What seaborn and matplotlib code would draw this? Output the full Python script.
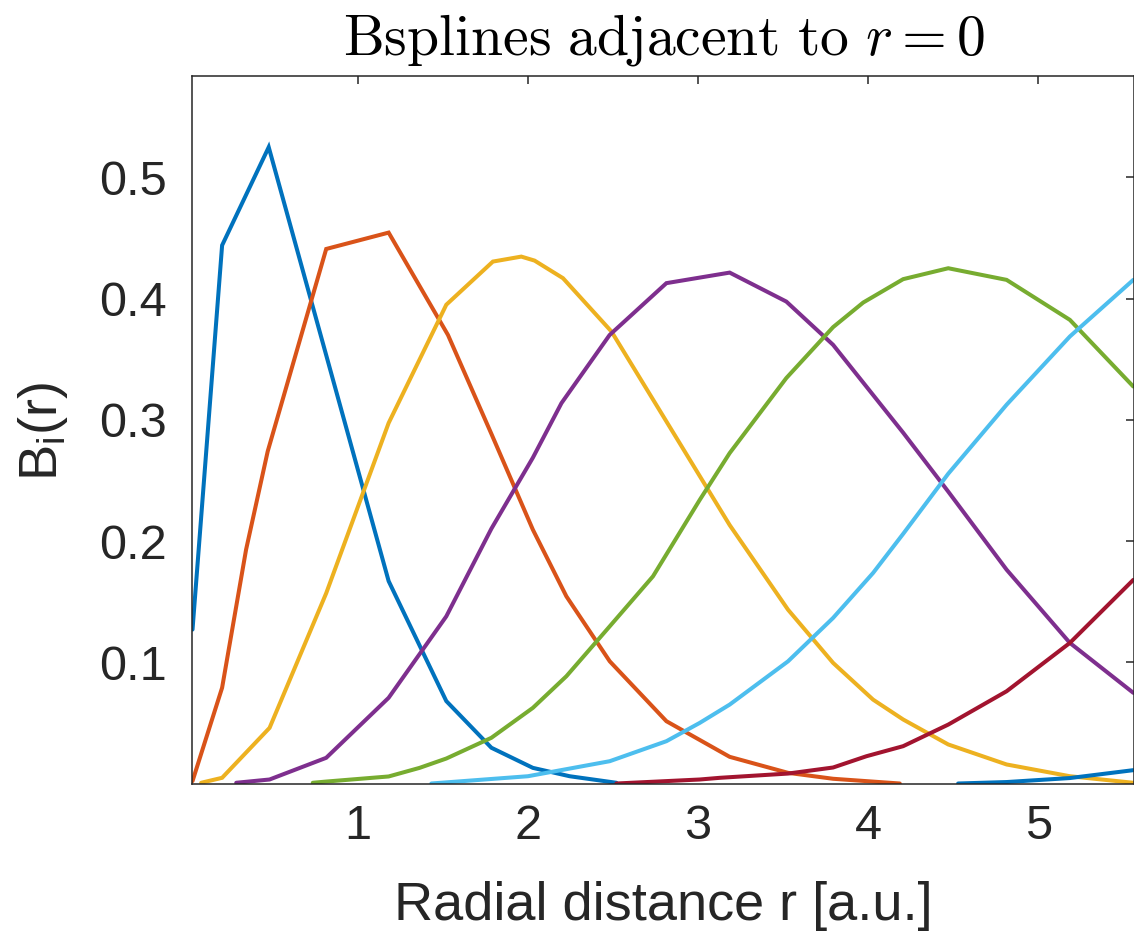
import numpy as np
import pandas as pd
import matplotlib
matplotlib.use("Agg")
import matplotlib.pyplot as plt
import seaborn as sns

# ---- data ----
blue1_x = [0.028, 0.202, 0.476, 1.181, 1.520, 1.785, 2.029, 2.245, 2.520]
blue1_y = [0.127, 0.444, 0.525, 0.167, 0.068, 0.0295, 0.0129, 0.006, 0.0006]

orange_x = [0.028, 0.202, 0.343, 0.470, 0.814, 1.181, 1.530, 1.785, 2.029, 2.226,
            2.481, 2.814, 3.186, 3.529, 3.794, 4.186]
orange_y = [0.002, 0.079, 0.193, 0.274, 0.441, 0.4545, 0.370, 0.2885, 0.2094, 0.1544,
            0.1008, 0.0514, 0.022, 0.0088, 0.0039, 0.0]

yellow_x = [0.079, 0.202, 0.481, 0.814, 1.181, 1.520, 1.794, 1.961, 2.039, 2.206, 2.491,
            2.814, 3.186, 3.529, 3.794, 4.029, 4.206, 4.471, 4.814, 5.186, 5.559]
yellow_y = [0.0006, 0.0047, 0.0459, 0.157, 0.2974, 0.395, 0.4306, 0.4347, 0.4314, 0.4169,
            0.3729, 0.2987, 0.2132, 0.1434, 0.0995, 0.0692, 0.0528, 0.0322, 0.0157, 0.006, 0.0006]

purple_x = [0.285, 0.481, 0.814, 1.181, 1.520, 1.785, 2.029, 2.197, 2.480, 2.814, 3.186,
            3.519, 3.794, 4.206, 4.471, 4.814, 5.186, 5.559]
purple_y = [0.0006, 0.0033, 0.0212, 0.0707, 0.1379, 0.2102, 0.2688, 0.3138, 0.370, 0.4128,
            0.4215, 0.3976, 0.3619, 0.2894, 0.2408, 0.1764, 0.116, 0.0748]

green_x = [0.735, 0.814, 1.181, 1.363, 1.520, 1.785, 2.029, 2.226, 2.481, 2.735, 3.010,
           3.186, 3.519, 3.794, 3.971, 4.206, 4.471, 4.814, 5.186, 5.559]
green_y = [0.0006, 0.0016, 0.0058, 0.0129, 0.0206, 0.0377, 0.0624, 0.0885, 0.1297, 0.1709,
           0.234, 0.2726, 0.3345, 0.3765, 0.3968, 0.4161, 0.4251, 0.4155, 0.3825, 0.3275]

cyan_x = [1.432, 2.000, 2.481, 2.814, 3.010, 3.186, 3.529, 3.794, 4.029, 4.206, 4.471,
          4.814, 5.186, 5.559]
cyan_y = [0.0, 0.006, 0.0184, 0.0349, 0.050, 0.0651, 0.1008, 0.1366, 0.1737, 0.206, 0.2556,
          0.3125, 0.3688, 0.4155]

red_x = [2.520, 3.010, 3.129, 3.529, 3.794, 3.990, 4.206, 4.471, 4.814, 5.186, 5.559]
red_y = [0.0, 0.0033, 0.0047, 0.0082, 0.0132, 0.0225, 0.0308, 0.0486, 0.0761, 0.116, 0.168]

blue2_x = [4.529, 4.814, 5.186, 5.559]
blue2_y = [0.0, 0.0012, 0.0045, 0.011]

x_ticks = [1, 2, 3, 4, 5]
x_ticklabels = ["1", "2", "3", "4", "5"]
y_ticks = [0.1, 0.2, 0.3, 0.4, 0.5]
y_ticklabels = ["0.1", "0.2", "0.3", "0.4", "0.5"]

curves = [
    (blue1_x, blue1_y, "#0072BD"),
    (orange_x, orange_y, "#D95319"),
    (yellow_x, yellow_y, "#EDB120"),
    (purple_x, purple_y, "#7E2F8E"),
    (green_x, green_y, "#77AC30"),
    (cyan_x, cyan_y, "#4DBEEE"),
    (red_x, red_y, "#A2142F"),
    (blue2_x, blue2_y, "#0072BD"),
]

sns.set_theme(style="white")
plt.rcParams["font.family"] = ["Liberation Sans", "DejaVu Sans"]
plt.rcParams["mathtext.fontset"] = "custom"
plt.rcParams["mathtext.rm"] = "Liberation Sans"
plt.rcParams["mathtext.it"] = "Liberation Sans:italic"

W, H = 1134, 938
fig = plt.figure(figsize=(W / 100, H / 100), dpi=100)
left, right, top, bottom = 192, 1134, 76, 783.5
ax = fig.add_axes([left / W, (H - bottom) / H, (right - left) / W, (bottom - top) / H])

for xs, ys, c in curves:
    df = pd.DataFrame({"r": xs, "B": ys})
    sns.lineplot(data=df, x="r", y="B", ax=ax, color=c, lw=2.9, sort=False,
                 estimator=None, solid_joinstyle="miter")

ax.set_xlim(0.025, 5.563)
ax.set_ylim(0, 0.5837)
ax.set_xticks(x_ticks)
ax.set_xticklabels(x_ticklabels)
ax.set_yticks(y_ticks)
ax.set_yticklabels(y_ticklabels)
ax.set_xlabel("")
ax.set_ylabel("")
dark = "#262626"
ax.tick_params(axis="both", direction="in", length=6, width=1.1, top=True, right=True,
               labelsize=35, colors=dark)
ax.tick_params(axis="x", pad=15)
ax.tick_params(axis="y", pad=18)
for s in ax.spines.values():
    s.set_color(dark)
    s.set_linewidth(1.1)

fig.text(664 / W, 1 - 55 / H, r"$\mathrm{Bsplines\ adjacent\ to\ }r=0$", ha="center",
         va="baseline", fontsize=41.5, math_fontfamily="cm", color="black")
fig.text(663 / W, 1 - 920 / H, "Radial distance r [a.u.]", ha="center", va="baseline",
         fontsize=39, color=dark)
fig.text(57 / W, 1 - 431 / H, r"B$_\mathrm{i}$(r)", ha="center", va="baseline",
         rotation=90, rotation_mode="anchor", fontsize=39, color=dark)

fig.savefig("out.png", dpi=100)
